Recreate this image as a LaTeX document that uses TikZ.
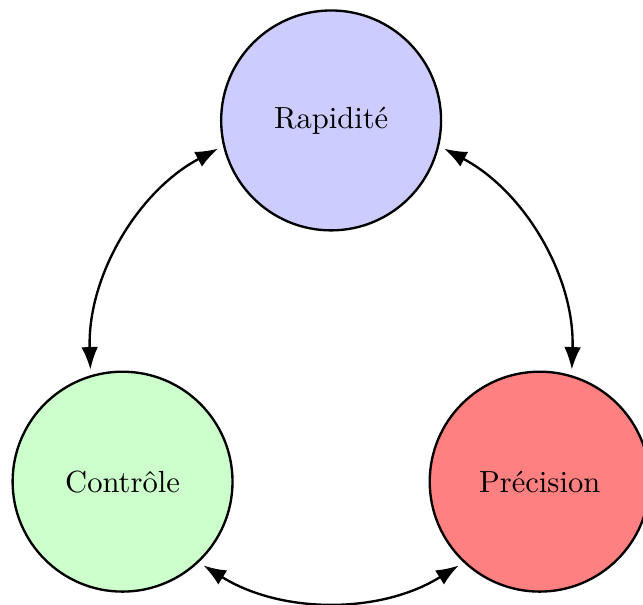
\documentclass[tikz,border=0pt]{standalone}
\usetikzlibrary{arrows.meta}
\begin{document}
\begin{tikzpicture}[
    pole/.style={circle,draw,thick,minimum size=2.63cm,font=\fontsize{10.4pt}{12.5pt}\selectfont},
    link/.style={{Latex[length=2.7mm,width=2mm]}-{Latex[length=2.7mm,width=2mm]},thick}
  ]
    \useasboundingbox (-3.96,-2.91) rectangle (3.73,4.32);
    \coordinate (o) at (0,0);
    \node[pole,fill=blue!20] (rap) at (90:2.88) {Rapidité};
    \node[pole,fill=green!20] (ctl) at (210:2.88) {Contrôle};
    \node[pole,fill=red!50] (pre) at (330:2.88) {Précision};
    % arcs on the circle through the three centres
    \foreach \a in {90,210,330}
      \draw[link] (o) ++(\a+28:2.88) arc[start angle=\a+28,end angle=\a+92,radius=2.88];
  \end{tikzpicture}
\end{document}
